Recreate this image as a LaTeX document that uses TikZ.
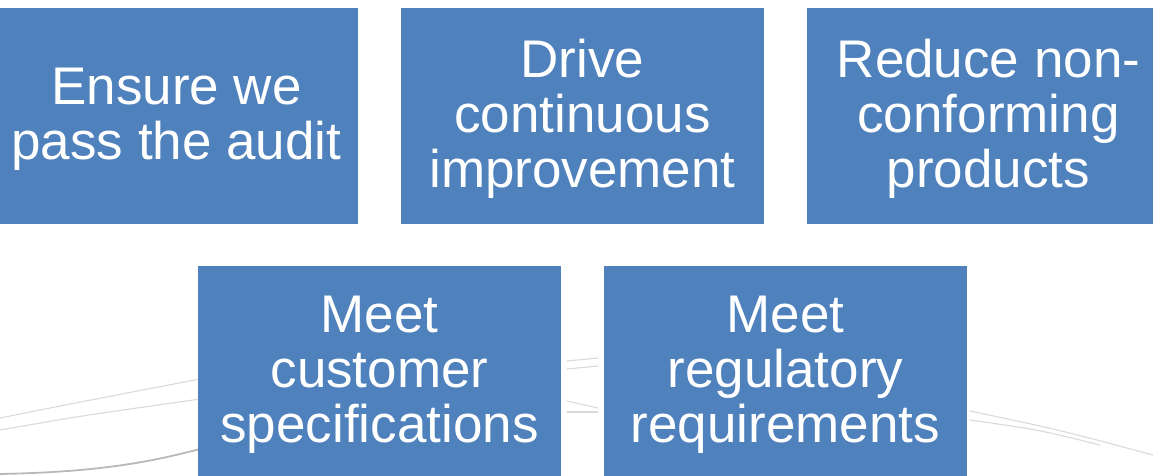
\documentclass[tikz,border=0pt]{standalone}
\usepackage{fontspec}
\setmainfont{Liberation Sans}
\definecolor{boxblue}{HTML}{4F81BD}
\definecolor{swoosh}{HTML}{DADADA}
\begin{document}
\begin{tikzpicture}[x=1pt,y=-1pt,
  goalbox/.style={rectangle, fill=boxblue, draw=none, text=white,
    minimum width=363pt, minimum height=216pt, inner sep=0pt,
    align=center, font=\fontsize{53}{55}\selectfont},
  swooshline/.style={draw=swoosh, line width=1.1pt, line cap=round}]
\useasboundingbox (0,0) rectangle (1153,475);
\clip (0,0) rectangle (1153,475);
\fill[white] (0,0) rectangle (1153,475);
% decorative background swooshes
\draw[swooshline] (0,418) .. controls (80,402) .. (200,379);
\draw[swooshline] (0,430) .. controls (80,416) .. (200,399);
\draw[swooshline, line width=1.8pt, draw=swoosh!85!black] (0,474) .. controls (100,472) and (150,462) .. (200,449);
\draw[swooshline] (567,361) -- (598,358);
\draw[swooshline] (567,369) -- (598,366);
\draw[swooshline] (567,401) -- (598,408);
\draw[swooshline] (567,412) -- (598,412);
\draw[swooshline] (970,411) .. controls (1060,430) .. (1153,455);
\draw[swooshline] (970,420) .. controls (1040,430) .. (1100,445);
% boxes
\node[goalbox] (audit) at (176.5,116) {};
\node[goalbox] (improve) at (582.5,116) {};
\node[goalbox] (reduce) at (988.5,116) {};
\node[goalbox] (customer) at (379.5,374) {};
\node[goalbox] (regulatory) at (785.5,374) {};
\path (audit.center) ++(0,3) node[goalbox, fill=none, minimum width=0pt, minimum height=0pt] (audittext) {Ensure we\\pass the audit};
\path (improve.center) ++(0,3) node[goalbox, fill=none, minimum width=0pt, minimum height=0pt] (improvetext) {Drive\\continuous\\improvement};
\path (reduce.center) ++(0,3) node[goalbox, fill=none, minimum width=0pt, minimum height=0pt] (reducetext) {Reduce non-\\conforming\\products};
\path (customer.center) ++(0,1) node[goalbox, fill=none, minimum width=0pt, minimum height=0pt] (customertext) {Meet\\customer\\specifications};
\path (regulatory.center) ++(0,1) node[goalbox, fill=none, minimum width=0pt, minimum height=0pt] (regulatorytext) {Meet\\regulatory\\requirements};
\end{tikzpicture}
\end{document}
